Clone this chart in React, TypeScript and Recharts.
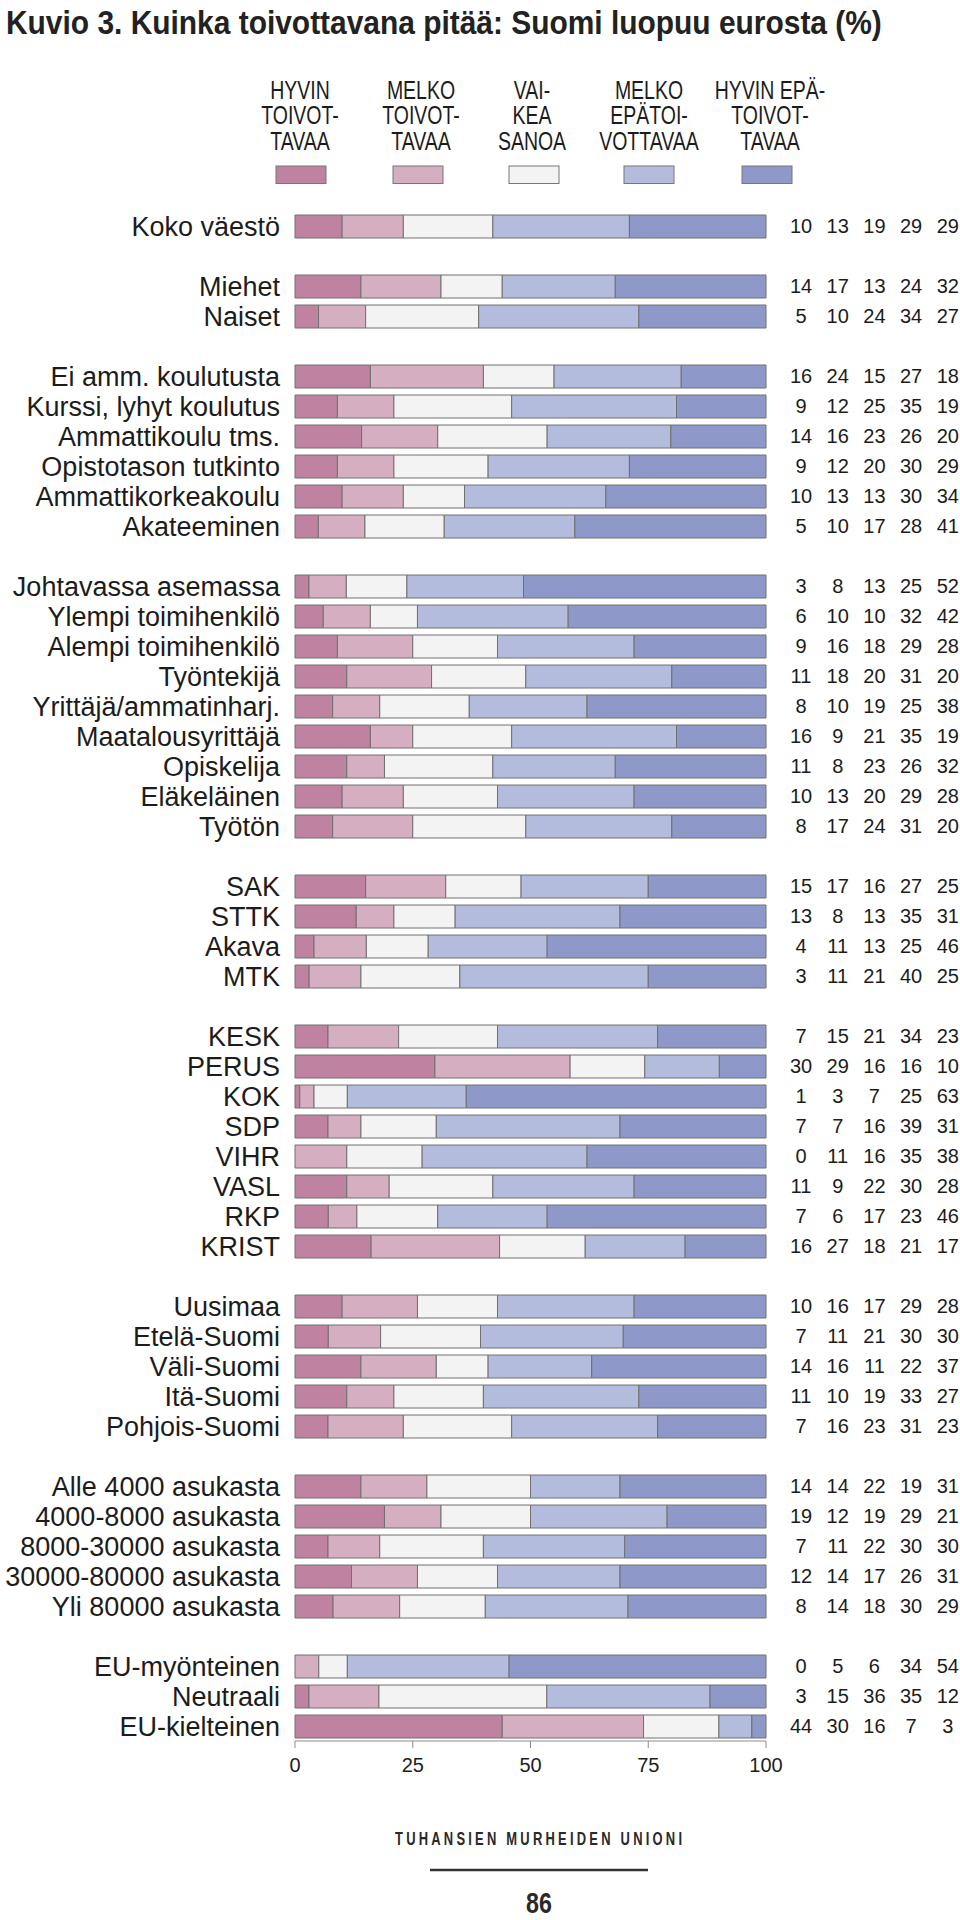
import { BarChart, Bar, XAxis, YAxis } from "recharts";

// "" marks the empty row between groups
const categories = [
  "Koko väestö",
  "",
  "Miehet",
  "Naiset",
  "",
  "Ei amm. koulutusta",
  "Kurssi, lyhyt koulutus",
  "Ammattikoulu tms.",
  "Opistotason tutkinto",
  "Ammattikorkeakoulu",
  "Akateeminen",
  "",
  "Johtavassa asemassa",
  "Ylempi toimihenkilö",
  "Alempi toimihenkilö",
  "Työntekijä",
  "Yrittäjä/ammatinharj.",
  "Maatalousyrittäjä",
  "Opiskelija",
  "Eläkeläinen",
  "Työtön",
  "",
  "SAK",
  "STTK",
  "Akava",
  "MTK",
  "",
  "KESK",
  "PERUS",
  "KOK",
  "SDP",
  "VIHR",
  "VASL",
  "RKP",
  "KRIST",
  "",
  "Uusimaa",
  "Etelä-Suomi",
  "Väli-Suomi",
  "Itä-Suomi",
  "Pohjois-Suomi",
  "",
  "Alle 4000 asukasta",
  "4000-8000 asukasta",
  "8000-30000 asukasta",
  "30000-80000 asukasta",
  "Yli 80000 asukasta",
  "",
  "EU-myönteinen",
  "Neutraali",
  "EU-kielteinen",
];

const hyvinToivottavaa = [
  10, null, 14, 5, null, 16, 9, 14, 9, 10, 5, null, 3, 6, 9, 11, 8, 16, 11, 10, 8,
  null, 15, 13, 4, 3, null, 7, 30, 1, 7, 0, 11, 7, 16, null, 10, 7, 14, 11, 7,
  null, 14, 19, 7, 12, 8, null, 0, 3, 44,
];
const melkoToivottavaa = [
  13, null, 17, 10, null, 24, 12, 16, 12, 13, 10, null, 8, 10, 16, 18, 10, 9, 8, 13,
  17, null, 17, 8, 11, 11, null, 15, 29, 3, 7, 11, 9, 6, 27, null, 16, 11, 16, 10,
  16, null, 14, 12, 11, 14, 14, null, 5, 15, 30,
];
const vaikeaSanoa = [
  19, null, 13, 24, null, 15, 25, 23, 20, 13, 17, null, 13, 10, 18, 20, 19, 21, 23,
  20, 24, null, 16, 13, 13, 21, null, 21, 16, 7, 16, 16, 22, 17, 18, null, 17, 21,
  11, 19, 23, null, 22, 19, 22, 17, 18, null, 6, 36, 16,
];
const melkoEpatoivottavaa = [
  29, null, 24, 34, null, 27, 35, 26, 30, 30, 28, null, 25, 32, 29, 31, 25, 35, 26,
  29, 31, null, 27, 35, 25, 40, null, 34, 16, 25, 39, 35, 30, 23, 21, null, 29, 30,
  22, 33, 31, null, 19, 29, 30, 26, 30, null, 34, 35, 7,
];
const hyvinEpatoivottavaa = [
  29, null, 32, 27, null, 18, 19, 20, 29, 34, 41, null, 52, 42, 28, 20, 38, 19, 32,
  28, 20, null, 25, 31, 46, 25, null, 23, 10, 63, 31, 38, 28, 46, 17, null, 28, 30,
  37, 27, 23, null, 31, 21, 30, 31, 29, null, 54, 12, 3,
];

const axisTicks = [0, 0.25, 0.5, 0.75, 1];

const SERIES = [
  { key: "hyvinToivottavaa", values: hyvinToivottavaa, color: "#bf82a0", label: ["HYVIN", "TOIVOT-", "TAVAA"] },
  { key: "melkoToivottavaa", values: melkoToivottavaa, color: "#d6aec1", label: ["MELKO", "TOIVOT-", "TAVAA"] },
  { key: "vaikeaSanoa", values: vaikeaSanoa, color: "#f3f3f3", label: ["VAI-", "KEA", "SANOA"] },
  { key: "melkoEpatoivottavaa", values: melkoEpatoivottavaa, color: "#b4bcdd", label: ["MELKO", "EPÄTOI-", "VOTTAVAA"] },
  { key: "hyvinEpatoivottavaa", values: hyvinEpatoivottavaa, color: "#8e99c9", label: ["HYVIN EPÄ-", "TOIVOT-", "TAVAA"] },
];

const chartData = categories.map((name, i) => {
  const row: Record<string, string | number | null> = { name };
  SERIES.forEach((s) => {
    row[s.key] = s.values[i];
  });
  return row;
});

const FONT = "'Liberation Sans', Arial, Helvetica, sans-serif";
const INK = "#1c1c1c";

// legend layout
const LEGEND_TEXT_X = [300, 421, 532, 649, 770];
const LEGEND_SWATCH_X = [301, 418, 534, 649, 767];
const VALUE_STEP = 36.7;

const CategoryTick = (props: any) => {
  const { x, y, payload } = props;
  return (
    <text x={x} y={y} dy="0.36em" textAnchor="end" fontSize={27} fontFamily={FONT} fill={INK}>
      {payload.value}
    </text>
  );
};

const ValueTick = (props: any) => {
  const { x, y, index } = props;
  const row = chartData[index];
  if (!row || row[SERIES[0].key] == null) return null;
  return (
    <g>
      {SERIES.map((s, j) => (
        <text
          key={s.key}
          x={x + j * VALUE_STEP}
          y={y}
          dy="0.36em"
          textAnchor="middle"
          fontSize={20}
          fontFamily={FONT}
          fill={INK}
        >
          {row[s.key]}
        </text>
      ))}
    </g>
  );
};

const Decorations = () => (
  <svg width={960} height={1920} style={{ position: "absolute", left: 0, top: 0 }}>
    <g transform="translate(6,34) scale(0.88,1)">
      <text x={0} y={0} fontSize={34} fontWeight="bold" fontFamily={FONT} fill="#222">
        Kuvio 3. Kuinka toivottavana pitää: Suomi luopuu eurosta (%)
      </text>
    </g>

    {SERIES.map((s, i) => (
      <g key={s.key}>
        <g transform={`translate(${LEGEND_TEXT_X[i]},0) scale(0.78,1)`}>
          {s.label.map((line, j) => (
            <text
              key={j}
              x={0}
              y={99 + j * 25.5}
              textAnchor="middle"
              fontSize={25}
              fontFamily={FONT}
              fill={INK}
            >
              {line}
            </text>
          ))}
        </g>
        <rect
          x={LEGEND_SWATCH_X[i] - 25}
          y={166}
          width={50}
          height={17.5}
          fill={s.color}
          stroke="#777"
          strokeWidth={1}
        />
      </g>
    ))}

    <g transform="translate(395,1845) scale(0.7,1)">
      <text x={0} y={0} fontSize={18.5} fontWeight="bold" fontFamily={FONT} fill="#2a2a2a" textLength={410} lengthAdjust="spacing">
        TUHANSIEN MURHEIDEN UNIONI
      </text>
    </g>
    <line x1={430} x2={648} y1={1870} y2={1870} stroke="#333" strokeWidth={2.5} />
    <g transform="translate(539,1913) scale(0.8,1)">
      <text x={0} y={0} textAnchor="middle" fontSize={29} fontWeight="bold" fontFamily={FONT} fill="#2a2a2a">
        86
      </text>
    </g>
  </svg>
);

const App = () => {
  return (
    <div style={{ position: "absolute", left: 0, top: 0, width: 960, height: 1920, background: "#fff" }}>
      <Decorations />
      <div style={{ position: "absolute", left: 0, top: 0 }}>
        <BarChart
          width={960}
          height={1920}
          data={chartData}
          layout="vertical"
          stackOffset="expand"
          barSize={23}
          margin={{ top: 211, right: 0, bottom: 139, left: 0 }}
        >
          <XAxis
            type="number"
            domain={[0, 1]}
            ticks={axisTicks}
            tickFormatter={(v: number) => String(Math.round(v * 100))}
            height={40}
            tickSize={7}
            tickMargin={10}
            stroke="#8c8c8c"
            tick={{ fontSize: 20, fontFamily: FONT, fill: INK }}
          />
          <YAxis
            yAxisId="cat"
            type="category"
            dataKey="name"
            width={295}
            interval={0}
            axisLine={false}
            tickLine={false}
            tickSize={0}
            tickMargin={15}
            tick={<CategoryTick />}
          />
          <YAxis
            yAxisId="vals"
            orientation="right"
            type="category"
            dataKey="name"
            width={194}
            interval={0}
            axisLine={false}
            tickLine={false}
            tickSize={0}
            tickMargin={35}
            tick={<ValueTick />}
          />
          {SERIES.map((s) => (
            <Bar
              key={s.key}
              dataKey={s.key}
              yAxisId="cat"
              stackId="a"
              fill={s.color}
              stroke="#707070"
              strokeWidth={1}
              isAnimationActive={false}
            />
          ))}
        </BarChart>
      </div>
    </div>
  );
};

export default App;
